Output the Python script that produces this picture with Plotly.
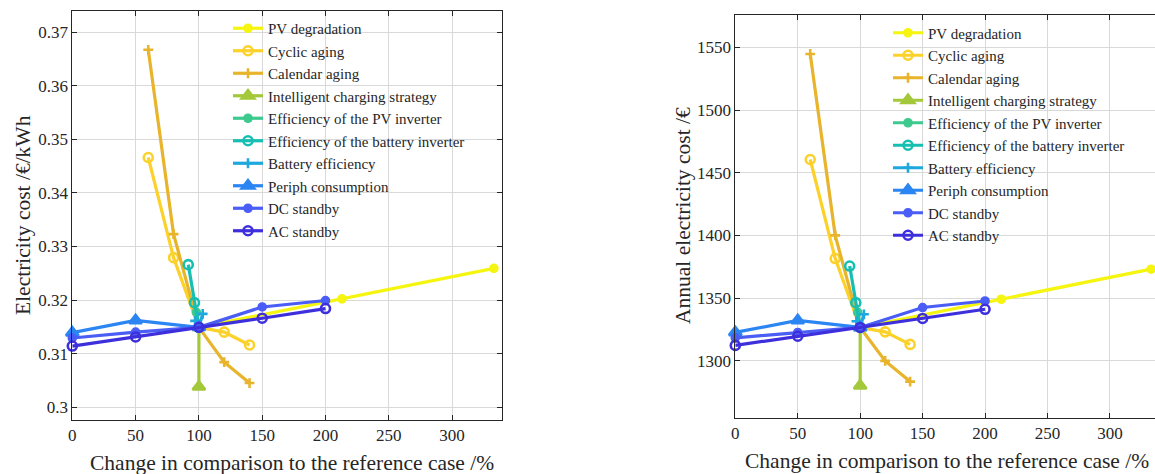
import plotly.graph_objects as go

# ---------------- data ----------------
names = ["PV degradation", "Cyclic aging", "Calendar aging", "Intelligent charging strategy",
         "Efficiency of the PV inverter", "Efficiency of the battery inverter",
         "Battery efficiency", "Periph consumption", "DC standby", "AC standby"]

# left: electricity cost /€/kWh
pv_x = [100, 213, 333];              pv_y = [0.3149, 0.3202, 0.3259]
cyc_x = [60, 80, 100, 120, 140];     cyc_y = [0.3466, 0.3279, 0.3149, 0.3140, 0.3116]
cal_x = [60, 80, 100, 120, 140];     cal_y = [0.3667, 0.3323, 0.3149, 0.3084, 0.3045]
ics_x = [100, 100];                  ics_y = [0.3149, 0.3038]
pvinv_x = [98, 100];                 pvinv_y = [0.3177, 0.3149]
binv_x = [91.6, 96.5, 100];          binv_y = [0.3266, 0.3195, 0.3149]
beff_x = [97, 100, 103];             beff_y = [0.3161, 0.3149, 0.3174]
per_x = [0, 50, 100];                per_y = [0.3139, 0.3162, 0.3149]
dc_x = [0, 50, 100, 150, 200];       dc_y = [0.3129, 0.3140, 0.3149, 0.3187, 0.3199]
ac_x = [0, 50, 100, 150, 200];       ac_y = [0.3114, 0.3131, 0.3149, 0.3166, 0.3184]

# right: annual electricity cost /€
pv_y2 = [1326.5, 1349, 1373]
cyc_y2 = [1460.5, 1381.5, 1326.5, 1323, 1313]
cal_y2 = [1544.7, 1400, 1326.5, 1299.8, 1283.3]
ics_y2 = [1326.5, 1280]
pvinv_y2 = [1338.5, 1326.5]
binv_y2 = [1375.5, 1346.3, 1326.5]
beff_y2 = [1331.5, 1326.5, 1337]
per_y2 = [1322.6, 1332.1, 1326.5]
dc_y2 = [1318.2, 1322.5, 1326.5, 1342.4, 1347.6]
ac_y2 = [1312.2, 1319.5, 1326.5, 1333.7, 1341]

x_ticks = [0, 50, 100, 150, 200, 250, 300]
y1_ticks = [0.30, 0.31, 0.32, 0.33, 0.34, 0.35, 0.36, 0.37]
y1_labels = ["0.3", "0.31", "0.32", "0.33", "0.34", "0.35", "0.36", "0.37"]
y2_ticks = [1300, 1350, 1400, 1450, 1500, 1550]

left_x = [pv_x, cyc_x, cal_x, ics_x, pvinv_x, binv_x, beff_x, per_x, dc_x, ac_x]
left_y = [pv_y, cyc_y, cal_y, ics_y, pvinv_y, binv_y, beff_y, per_y, dc_y, ac_y]
right_y = [pv_y2, cyc_y2, cal_y2, ics_y2, pvinv_y2, binv_y2, beff_y2, per_y2, dc_y2, ac_y2]

# ---------------- style ----------------
colors = ["#f5f50f", "#fcd12a", "#e8b42c", "#a3c93a", "#3ec98e",
          "#17bfb2", "#1fa8dd", "#2b85f2", "#4a5df5", "#3e2fdc"]
symbols = ["circle", "circle-open", "cross-thin-open", "triangle-up",
           "circle", "circle-open", "cross-thin-open", "triangle-up",
           "circle", "circle-open"]
msize = {"circle": 7, "circle-open": 9, "cross-thin-open": 7, "triangle-up": 11}
FONT = "Liberation Serif, Times New Roman, serif"
AXC = "#262626"
GRID = "#d9d9d9"

fig = go.Figure()
for i in range(10):
    for side in (0, 1):
        ys = left_y[i] if side == 0 else right_y[i]
        fig.add_trace(go.Scatter(
            x=left_x[i], y=ys, name=names[i], mode="lines+markers",
            line=dict(color=colors[i], width=3.2),
            marker=dict(symbol=symbols[i], size=msize[symbols[i]], color=colors[i],
                        line=dict(color=colors[i], width=2.6)),
            cliponaxis=False,
            xaxis="x" if side == 0 else "x2", yaxis="y" if side == 0 else "y2",
            legend="legend" if side == 0 else "legend2",
        ))

W, H = 1155, 474
ax_common = dict(showline=True, linecolor=AXC, linewidth=1, ticks="inside", ticklen=5,
                 tickcolor=AXC, showgrid=True, gridcolor=GRID, gridwidth=1, zeroline=False,
                 tickfont=dict(family=FONT, size=17, color=AXC), automargin=False)

fig.update_layout(
    width=W, height=H, margin=dict(l=0, r=0, t=0, b=0),
    font=dict(family=FONT, size=17, color=AXC),
    paper_bgcolor="white", plot_bgcolor="white",
    xaxis=dict(domain=[72.3 / W, 502 / W], range=[0, 339.4], tickvals=x_ticks,
               mirror="ticks", anchor="y", **ax_common),
    yaxis=dict(domain=[1 - 420 / H, 1 - 10.7 / H], range=[0.2976, 0.3740],
               tickvals=y1_ticks, ticktext=y1_labels, mirror="ticks", anchor="x", **ax_common),
    xaxis2=dict(domain=[735.3 / W, 1.0], range=[0, 336.1], tickvals=x_ticks,
                mirror="ticks", anchor="y2", **ax_common),
    yaxis2=dict(domain=[1 - 417.7 / H, 1 - 15 / H], range=[1254.5, 1575.8],
                tickvals=y2_ticks, mirror=False, anchor="x2", **ax_common),
    legend=dict(x=228 / W, y=1 - 12 / H, xanchor="left", yanchor="top",
                bgcolor="rgba(0,0,0,0)", borderwidth=0, itemwidth=30,
                font=dict(family=FONT, size=15, color=AXC), tracegroupgap=0),
    legend2=dict(x=888 / W, y=1 - 16.5 / H, xanchor="left", yanchor="top",
                 bgcolor="rgba(0,0,0,0)", borderwidth=0, itemwidth=30,
                 font=dict(family=FONT, size=15, color=AXC), tracegroupgap=0),
    showlegend=True,
)

ann_font = dict(family=FONT, size=21.5, color=AXC)
ann_common = dict(xref="paper", yref="paper", showarrow=False, font=ann_font,
                  xanchor="center", yanchor="middle")
fig.add_annotation(text="Change in comparison to the reference case /%", x=292 / W, y=1 - 463 / H,
                   **ann_common)
fig.add_annotation(text="Change in comparison to the reference case /%", x=947 / W, y=1 - 461 / H,
                   **ann_common)
fig.add_annotation(text="Electricity cost /€/kWh", x=23 / W, y=1 - 215 / H, textangle=-90,
                   **ann_common)
fig.add_annotation(text="Annual electricity cost /€", x=683 / W, y=1 - 216 / H, textangle=-90,
                   **ann_common)

fig.write_html("out.html")
